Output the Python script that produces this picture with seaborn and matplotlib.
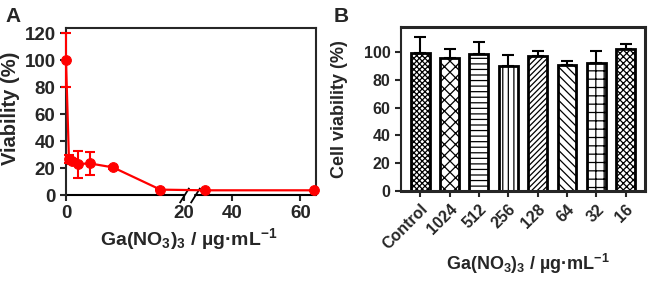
import matplotlib
matplotlib.use("Agg")
import matplotlib.pyplot as plt
import seaborn as sns
import numpy as np
import pandas as pd

sns.set_style("ticks")
plt.rcParams["font.family"] = ["Liberation Sans", "DejaVu Sans"]
plt.rcParams["font.weight"] = "bold"
plt.rcParams["axes.labelweight"] = "bold"
plt.rcParams["mathtext.fontset"] = "custom"
plt.rcParams["mathtext.rm"] = "Liberation Sans:bold"
plt.rcParams["mathtext.it"] = "Liberation Sans:bold"
plt.rcParams["mathtext.bf"] = "Liberation Sans:bold"
plt.rcParams["hatch.linewidth"] = 0.9

# panel A data
conc_a = [0, 0.5, 1, 2, 4, 8, 16, 32, 64]
viab_a = [100, 27, 25, 23, 23.5, 20.5, 4, 3.5, 3.5]
sd_a = [20, 3, 2, 10, 8.5, 1, 0.5, 0.5, 0.5]

# panel B data
groups_b = ["Control", "1024", "512", "256", "128", "64", "32", "16"]
viab_b = [99.5, 95.5, 98.8, 89.6, 96.8, 90.8, 92, 102.2]
sd_b = [11.3, 7, 8.2, 8.4, 3.7, 2.7, 9, 3.6]
hatches = ["xxxxxx", "xxx", "---", "|||", "//////", "\\\\\\\\", "++", "xxxxx"]

xlabel = r"Ga(NO$_3$)$_3$ / µg·mL$^{-1}$"

# broken x axis: 0-20 then 29-65
GAP = 1.86
R = 0.576


def fwd(x):
    x = np.asarray(x, float)
    return np.where(x <= 20, x,
                    np.where(x <= 29, 20 + (x - 20) * GAP / 9,
                             20 + GAP + (x - 29) * R))


def inv(u):
    u = np.asarray(u, float)
    return np.where(u <= 20, u,
                    np.where(u <= 20 + GAP, 20 + (u - 20) * 9 / GAP,
                             29 + (u - 20 - GAP) / R))


fig = plt.figure(figsize=(6.5, 2.81), dpi=100)
ax1 = fig.add_axes([0.1015, 0.306, 0.385, 0.594])
ax2 = fig.add_axes([0.617, 0.320, 0.375, 0.584])

# ---- A
df_a = pd.DataFrame({"conc": conc_a, "viab": viab_a})
ax1.set_xscale("function", functions=(fwd, inv))
sns.lineplot(data=df_a, x="conc", y="viab", color="red", marker="o",
             markersize=7, markeredgecolor="red", linewidth=1.6, ax=ax1,
             clip_on=False, zorder=3)
eb = ax1.errorbar(conc_a, viab_a, yerr=sd_a, fmt="none", ecolor="red",
                  elinewidth=1.5, capsize=3.5, capthick=1.5, zorder=3)
for art in eb.lines[1] + eb.lines[2]:
    art.set_clip_on(False)
ax1.set_xlim(0, 64.7)
ax1.set_ylim(0, 124)
ax1.set_xticks([0, 20, 40, 60])
ax1.set_xticklabels(["0", "20", "40", "60"])
ax1.set_yticks(range(0, 121, 20))
ax1.set_xlabel(xlabel, fontsize=14)
ax1.set_ylabel("Viability (%)", fontsize=14.5)
ax1.yaxis.set_label_coords(-0.185, 0.52)
ax1.xaxis.set_label_coords(0.49, -0.185)
ax1.tick_params(labelsize=13.5, width=1.5, length=4)
for s in ["left", "top", "right"]:
    ax1.spines[s].set_linewidth(1.5)
ax1.spines["bottom"].set_visible(False)
tr = ax1.get_xaxis_transform()
ax1.plot([0, 20], [0, 0], color="black", lw=1.5, transform=tr, clip_on=False)
ax1.plot([29, 64.7], [0, 0], color="black", lw=1.5, transform=tr, clip_on=False)
ax1.plot([20, 29], [0, 0], linestyle="none", marker=[(-1, -1.6), (1, 1.6)],
         markersize=11, mew=1.3, color="black", transform=tr, clip_on=False)

# ---- B
df_b = pd.DataFrame({"group": groups_b, "viab": viab_b})
sns.barplot(data=df_b, x="group", y="viab", color="white", edgecolor="black",
            linewidth=2, width=0.64, ax=ax2, zorder=2)
for bar, h in zip(ax2.patches, hatches):
    bar.set_hatch(h)
    bar.set_facecolor("white")
ax2.errorbar(range(len(groups_b)), viab_b, yerr=[np.zeros(len(sd_b)), sd_b],
             fmt="none", ecolor="black", elinewidth=1.5, capsize=4,
             capthick=1.5, zorder=1)
ax2.set_xlim(-0.65, 7.65)
ax2.set_ylim(0, 118)
ax2.set_yticks(range(0, 101, 20))
ax2.set_xticks(range(len(groups_b)))
ax2.set_xticklabels(groups_b, rotation=45, ha="right", rotation_mode="anchor")
ax2.tick_params(labelsize=11.5, width=1.5, length=4)
ax2.set_xlabel(xlabel, fontsize=13)
ax2.set_ylabel("Cell viability (%)", fontsize=13)
ax2.yaxis.set_label_coords(-0.217, 0.5)
ax2.xaxis.set_label_coords(0.52, -0.37)
for s in ["left"]:
    ax2.spines[s].set_linewidth(1.5)
for s in ["top", "right", "bottom"]:
    ax2.spines[s].set_linewidth(2.2)

fig.text(0.008, 0.975, "A", fontsize=15, fontweight="bold", va="top")
fig.text(0.513, 0.975, "B", fontsize=15, fontweight="bold", va="top")

fig.savefig("out.png", dpi=100)
